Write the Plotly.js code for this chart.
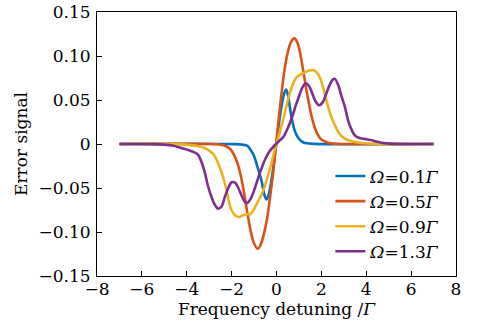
<!DOCTYPE html>
<html>
<head>
<meta charset="utf-8">
<script src="https://cdn.plot.ly/plotly-3.0.1.min.js"></script>
<style>html,body{margin:0;padding:0;background:#fff;}#chart{width:480px;height:324px;}</style>
</head>
<body>
<div id="chart"></div>
<script>
// Ω = 0.1Γ
var detBlue = [-7, -1.8, -1.5, -1.3, -1.16, -1.05, -0.94, -0.86, -0.75, -0.64, -0.55, -0.45, -0.35, -0.25, -0.15, -0.05, 0.05, 0.15, 0.25, 0.35, 0.43, 0.52, 0.6, 0.7, 0.8, 0.9, 1.0, 1.15, 1.35, 1.7, 7];
var errBlue = [0, -0.0001, -0.0008, -0.002, -0.0065, -0.011, -0.018, -0.025, -0.034, -0.045, -0.057, -0.063, -0.058, -0.045, -0.028, -0.008, 0.012, 0.031, 0.047, 0.058, 0.062, 0.055, 0.041, 0.027, 0.016, 0.010, 0.006, 0.0025, 0.0008, 0.0001, 0];
// Ω = 0.5Γ
var detRed = [-7, -3, -2.7, -2.3, -2.05, -1.9, -1.75, -1.6, -1.45, -1.3, -1.15, -1.0, -0.83, -0.7, -0.55, -0.42, -0.3, -0.15, 0, 0.12, 0.25, 0.38, 0.5, 0.65, 0.8, 0.95, 1.1, 1.25, 1.4, 1.55, 1.7, 1.85, 2.0, 2.3, 2.7, 3, 7];
var errRed = [0, 0, -0.0003, -0.002, -0.006, -0.012, -0.021, -0.035, -0.055, -0.078, -0.099, -0.113, -0.119, -0.114, -0.101, -0.085, -0.063, -0.033, 0.004, 0.034, 0.063, 0.088, 0.104, 0.116, 0.120, 0.114, 0.097, 0.074, 0.052, 0.033, 0.019, 0.010, 0.005, 0.0015, 0.0002, 0, 0];
// Ω = 0.9Γ
var detYellow = [-7, -4.4, -3.9, -3.5, -3.2, -3.0, -2.8, -2.6, -2.4, -2.25, -2.05, -1.85, -1.68, -1.5, -1.3, -1.16, -1.05, -0.94, -0.8, -0.64, -0.45, -0.27, -0.13, 0, 0.15, 0.33, 0.48, 0.63, 0.78, 0.92, 1.07, 1.22, 1.4, 1.64, 1.8, 1.96, 2.1, 2.26, 2.4, 2.56, 2.75, 2.93, 3.2, 3.5, 3.8, 4.4, 7];
var errYellow = [0, -0.0001, -0.0012, -0.0025, -0.0045, -0.0075, -0.012, -0.022, -0.036, -0.05, -0.072, -0.081, -0.083, -0.081, -0.0795, -0.0795, -0.076, -0.071, -0.064, -0.056, -0.042, -0.026, -0.012, 0.001, 0.014, 0.031, 0.047, 0.061, 0.071, 0.0765, 0.079, 0.081, 0.083, 0.084, 0.081, 0.074, 0.062, 0.046, 0.034, 0.0235, 0.014, 0.0083, 0.0042, 0.0022, 0.0011, 0.0001, 0];
// Ω = 1.3Γ
var detPurple = [-7, -5.5, -5.0, -4.6, -4.2, -3.9, -3.7, -3.5, -3.35, -3.2, -3.05, -2.9, -2.75, -2.6, -2.45, -2.3, -2.15, -2.0, -1.85, -1.7, -1.55, -1.4, -1.3, -1.15, -1.0, -0.85, -0.7, -0.5, -0.3, -0.1, 0.1, 0.3, 0.5, 0.7, 0.85, 1.0, 1.15, 1.3, 1.45, 1.6, 1.75, 1.9, 2.05, 2.2, 2.35, 2.5, 2.6, 2.75, 2.9, 3.05, 3.2, 3.35, 3.5, 3.7, 3.9, 4.2, 4.5, 4.8, 5.5, 7];
var errPurple = [0, -0.0001, -0.0007, -0.002, -0.0048, -0.007, -0.009, -0.012, -0.02, -0.032, -0.048, -0.06, -0.069, -0.0735, -0.071, -0.060, -0.05, -0.0435, -0.044, -0.05, -0.059, -0.066, -0.067, -0.062, -0.053, -0.041, -0.03, -0.017, -0.008, -0.002, 0.003, 0.008, 0.018, 0.031, 0.043, 0.054, 0.064, 0.069, 0.066, 0.057, 0.048, 0.044, 0.047, 0.056, 0.066, 0.073, 0.074, 0.067, 0.054, 0.042, 0.026, 0.016, 0.0095, 0.0068, 0.0058, 0.0045, 0.0025, 0.001, 0.0001, 0];

var seriesNames = ['<i>Ω</i>=0.1<i>Γ</i>', '<i>Ω</i>=0.5<i>Γ</i>', '<i>Ω</i>=0.9<i>Γ</i>', '<i>Ω</i>=1.3<i>Γ</i>'];
var seriesColors = ['#0072BD', '#D95319', '#EDB120', '#7E2F8E'];
var yTickVals = [-0.15, -0.10, -0.05, 0, 0.05, 0.10, 0.15];
var yTickText = ['\u22120.15', '\u22120.10', '\u22120.05', '0', '0.05', '0.10', '0.15'];

var xs = [detBlue, detRed, detYellow, detPurple];
var ys = [errBlue, errRed, errYellow, errPurple];
var traces = xs.map(function (x, i) {
  return {
    x: x, y: ys[i], type: 'scatter', mode: 'lines', name: seriesNames[i],
    line: {color: seriesColors[i], width: 2.6, shape: 'spline', smoothing: 0.9}
  };
});

var serif = 'DejaVu Serif';
var layout = {
  width: 480, height: 324,
  margin: {l: 97, r: 24, t: 12, b: 48},
  paper_bgcolor: '#fff', plot_bgcolor: '#fff',
  font: {family: serif, size: 17, color: '#000'},
  showlegend: true,
  legend: {x: 0.65, xanchor: 'left', y: 0.235, yanchor: 'middle',
    bgcolor: 'rgba(0,0,0,0)', borderwidth: 0, font: {family: serif, size: 17, color: '#000'}},
  xaxis: {
    range: [-8, 8], dtick: 2, tick0: -8, ticks: 'inside', ticklen: 5, tickcolor: '#000',
    ticklabelstandoff: -2,
    showgrid: false, zeroline: false, showline: true, linecolor: '#000', linewidth: 1, mirror: true,
    tickfont: {family: serif, size: 17},
    title: {text: 'Frequency detuning /<i>Γ</i>', font: {family: serif, size: 17}, standoff: 0}
  },
  yaxis: {
    range: [-0.15, 0.15], tickvals: yTickVals, ticktext: yTickText, ticks: 'inside', ticklen: 5, tickcolor: '#000',
    ticklabelstandoff: 2,
    showgrid: false, zeroline: false, showline: true, linecolor: '#000', linewidth: 1, mirror: true,
    tickfont: {family: serif, size: 17},
    title: {text: 'Error signal', font: {family: serif, size: 17}, standoff: 6}
  }
};
Plotly.newPlot('chart', traces, layout, {staticPlot: true});
</script>
</body>
</html>
